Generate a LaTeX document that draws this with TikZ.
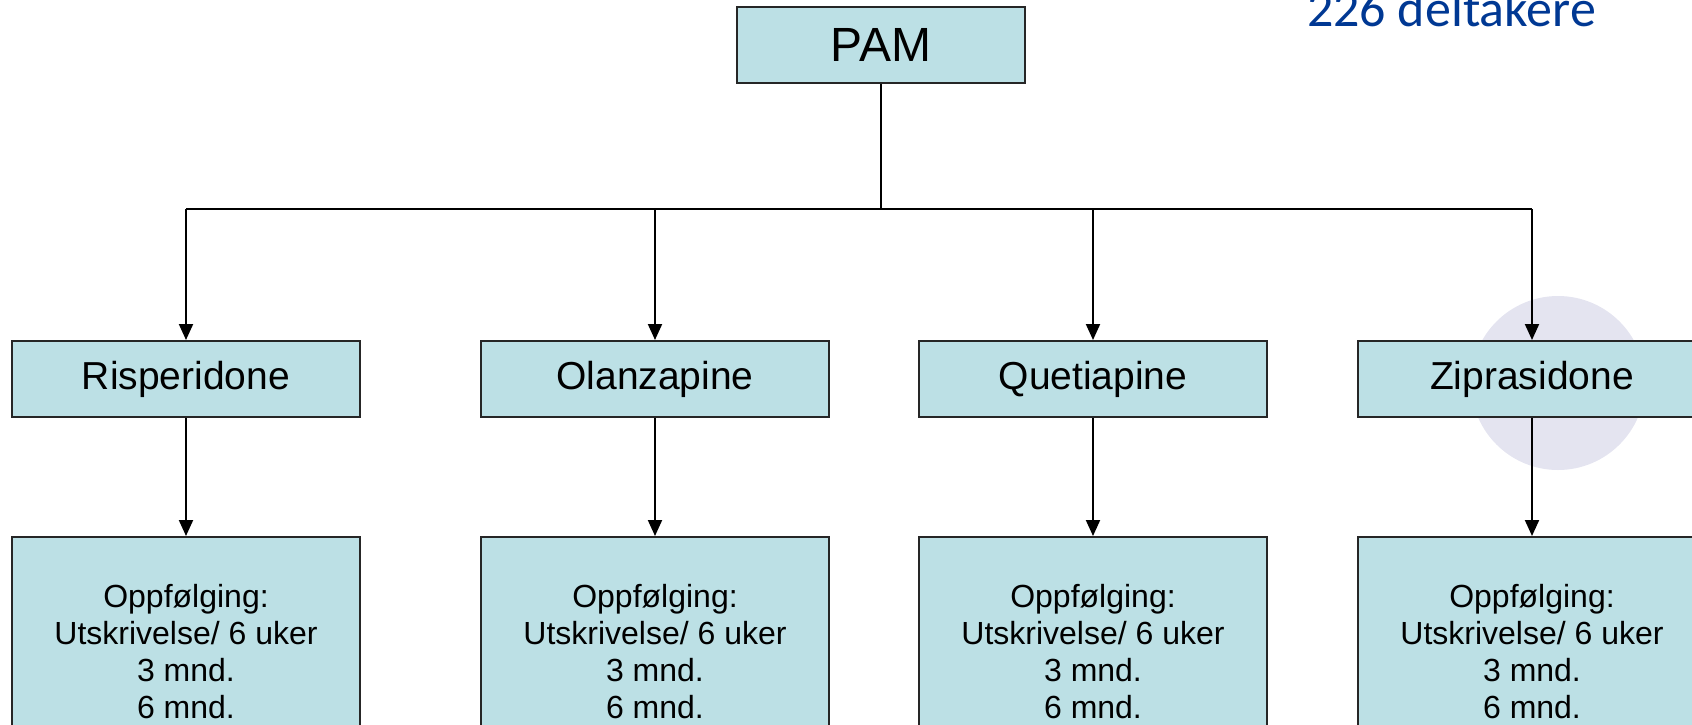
\documentclass[tikz,border=0pt]{standalone}
\usepackage{fontspec}
\setmainfont{Liberation Sans}
\newfontfamily\calfont{Carlito}
\usetikzlibrary{arrows.meta}
\definecolor{boxfill}{RGB}{188,224,229}
\definecolor{dotfill}{RGB}{228,228,240}
\definecolor{countblue}{RGB}{0,56,147}
\begin{document}
\begin{tikzpicture}[x=0.5pt,y=-0.5pt,
    box/.style={draw=black!85,line width=1pt,fill=boxfill,inner sep=0pt,
      minimum width=174pt,minimum height=38pt,font=\fontsize{19.5}{23}\selectfont},
    followbox/.style={box,minimum height=115pt,align=center,
      font=\fontsize{16}{18.5}\selectfont},
    link/.style={line width=1pt,black},
    arr/.style={link,-{Triangle[width=7pt,length=8pt]}}]
    \useasboundingbox (0,0) rectangle (1692,724);
    \clip (0,0) rectangle (1692,724);
    \fill[dotfill] (1558,383) circle (87);
    \node[box,minimum width=144pt,font=\fontsize{24}{28}\selectfont] (pam) at (881,45) {PAM};
    \node[anchor=base west,text=countblue,font=\calfont\fontsize{26}{30}\selectfont] (count) at (1300,26) {226 deltakere};
    \node[box] (risp) at (186,379) {Risperidone};
    \node[box] (olan) at (655,379) {Olanzapine};
    \node[box] (quet) at (1093,379) {Quetiapine};
    \node[box] (zipr) at (1532,379) {Ziprasidone};
    \node[followbox] (fRisp) at (186,652) {Oppfølging:\\Utskrivelse/ 6 uker\\3 mnd.\\6 mnd.};
    \node[followbox] (fOlan) at (655,652) {Oppfølging:\\Utskrivelse/ 6 uker\\3 mnd.\\6 mnd.};
    \node[followbox] (fQuet) at (1093,652) {Oppfølging:\\Utskrivelse/ 6 uker\\3 mnd.\\6 mnd.};
    \node[followbox] (fZipr) at (1532,652) {Oppfølging:\\Utskrivelse/ 6 uker\\3 mnd.\\6 mnd.};
    \coordinate (bar) at (881,209);
    \draw[link] (pam.south) -- (bar);
    \draw[link] (risp.north |- bar) -- (zipr.north |- bar);
    \foreach \d in {risp,olan,quet,zipr}
        \draw[arr] (\d.north |- bar) -- (\d.north);
    \draw[arr] (risp.south) -- (fRisp.north);
    \draw[arr] (olan.south) -- (fOlan.north);
    \draw[arr] (quet.south) -- (fQuet.north);
    \draw[arr] (zipr.south) -- (fZipr.north);
\end{tikzpicture}
\end{document}
